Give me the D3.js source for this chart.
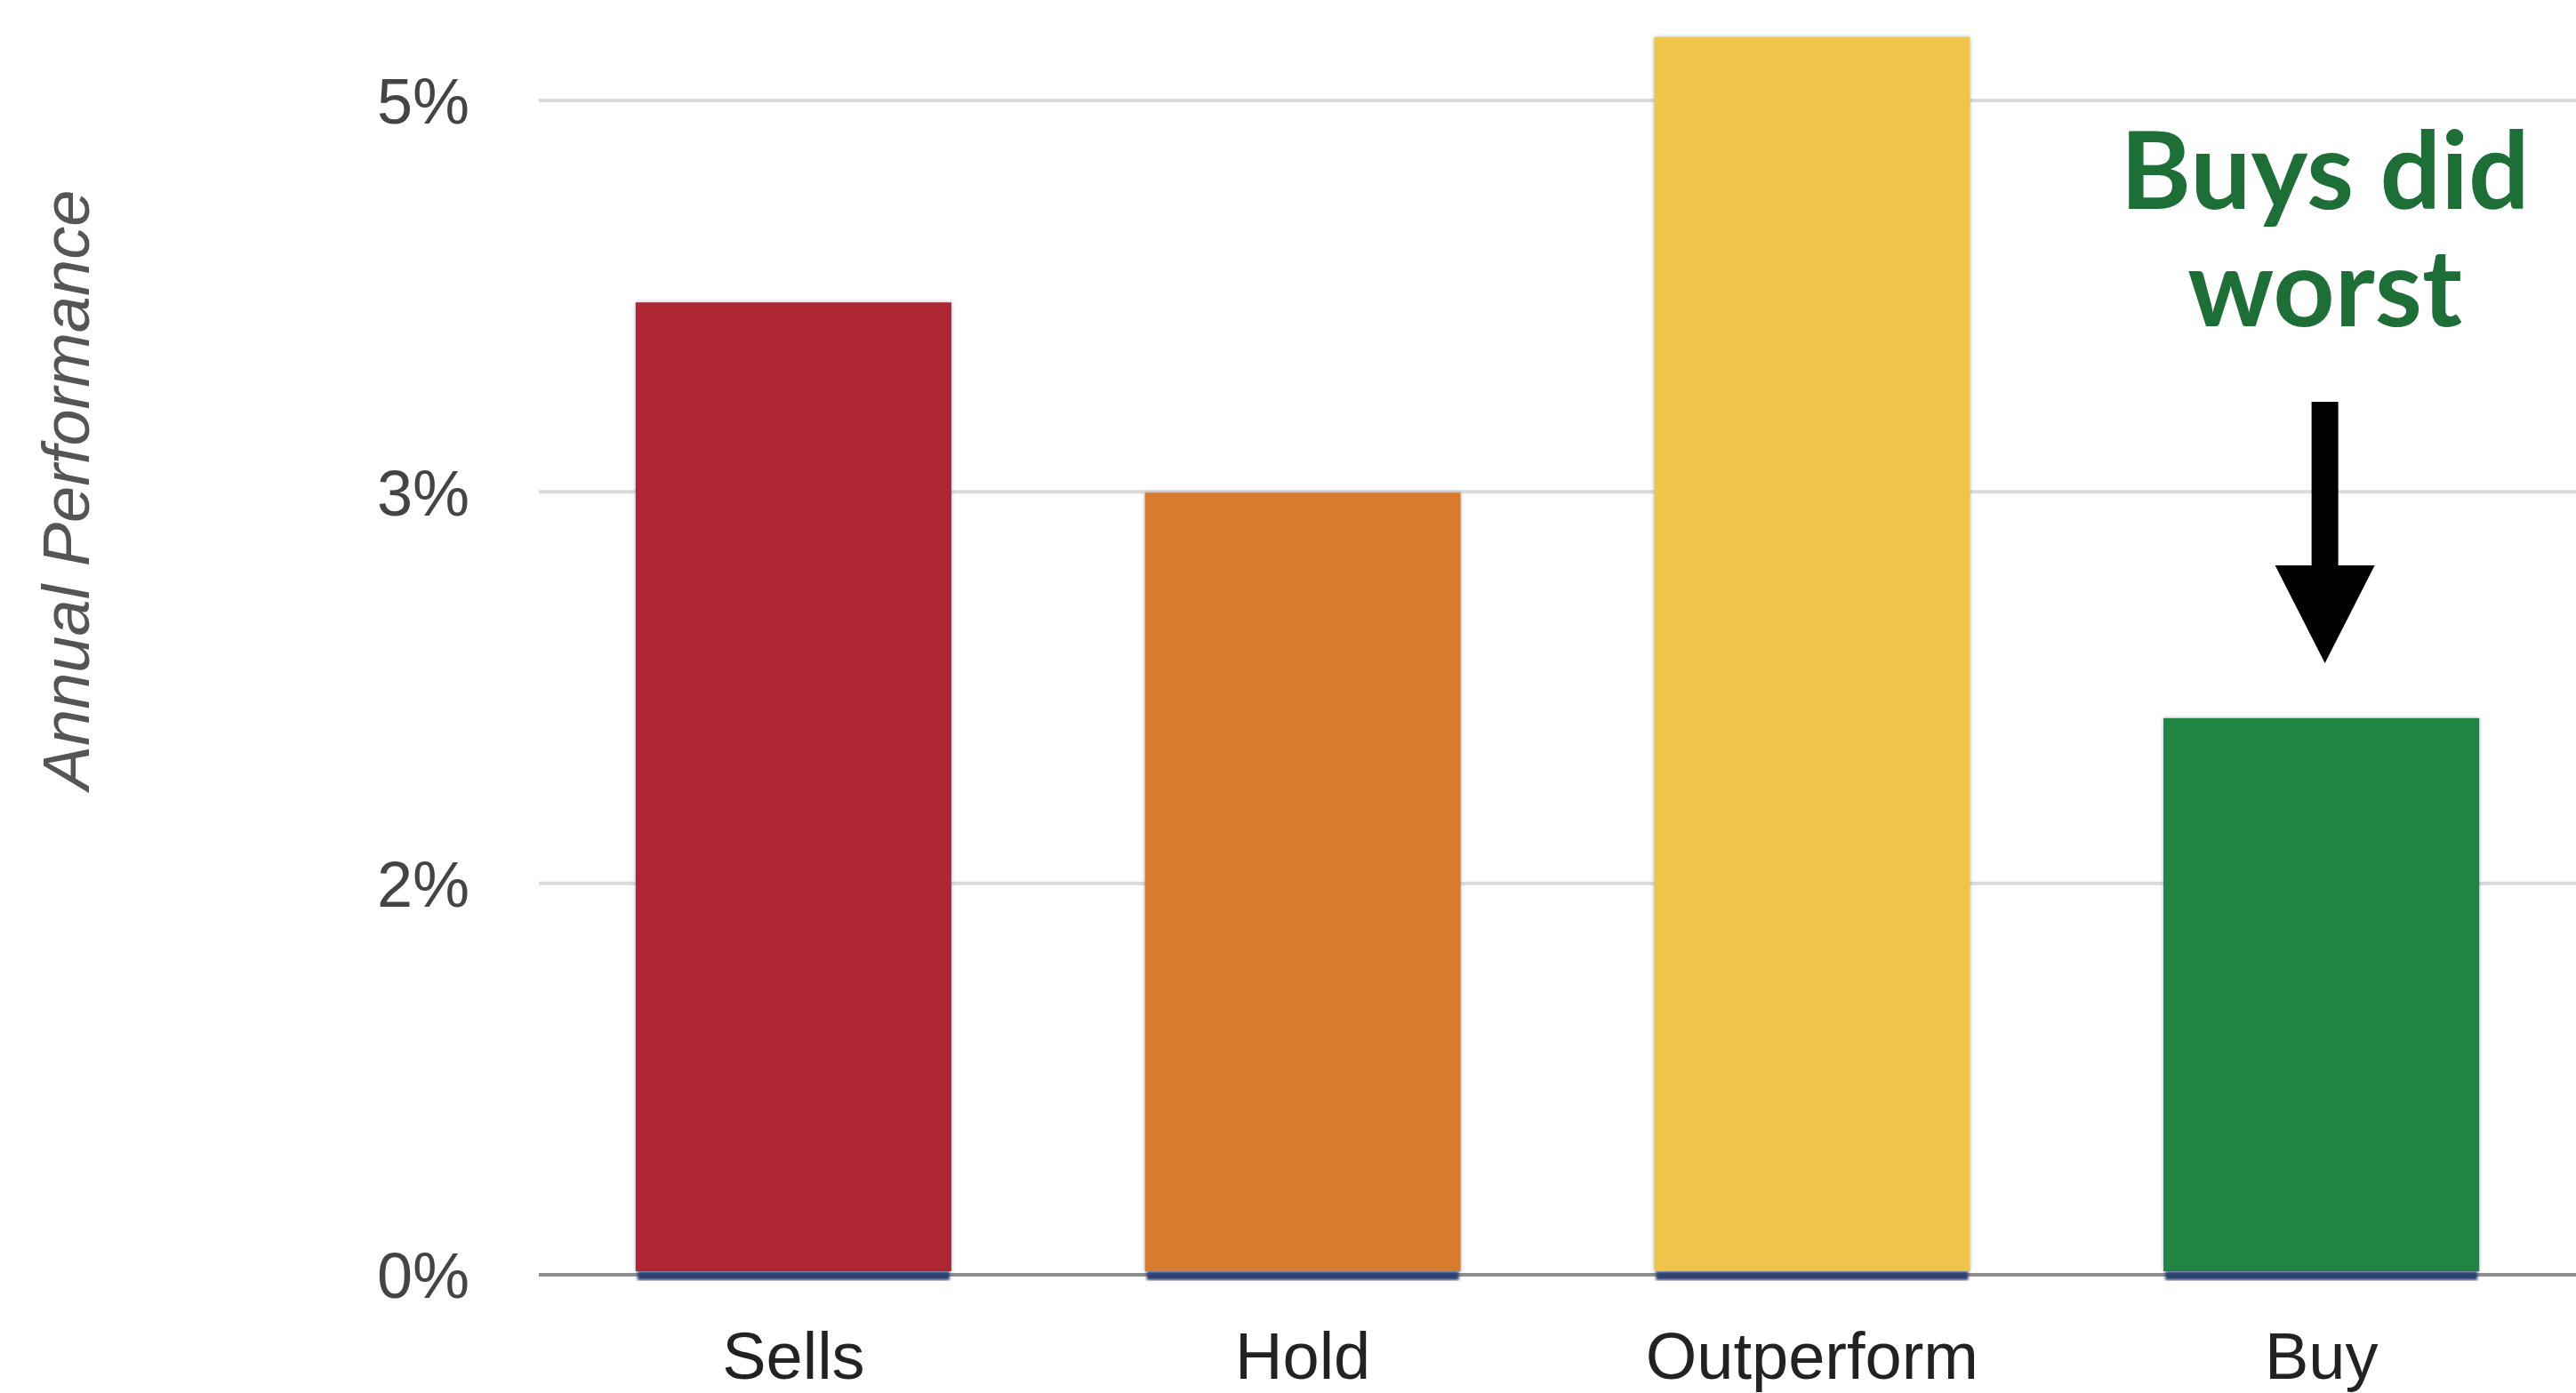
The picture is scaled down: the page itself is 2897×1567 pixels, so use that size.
<!DOCTYPE html>
<html>
<head>
<meta charset="utf-8">
<script src="https://cdn.jsdelivr.net/npm/d3@7"></script>
<style>
  html, body { margin: 0; padding: 0; background: #fff; }
  svg { display: block; }
</style>
</head>
<body>
<script>
// Annual performance by analyst rating
const categories = ["Sells", "Hold", "Outperform", "Buy"];
const values = [4.14, 3.33, 5.27, 2.37];           // percent per year
const barColors = ["#ad2733", "#d77c2f", "#efc44c", "#208442"];
const tickValues = [0, 5 / 3, 10 / 3, 5];
const tickLabels = ["0%", "2%", "3%", "5%"];
const annotationLines = ["Buys did", "worst"];

const W = 2897, H = 1567;
const margin = { left: 606, right: 0, top: 113, bottom: 133 };

const svg = d3.select("body").append("svg")
  .attr("width", W).attr("height", H);

const defs = svg.append("defs");
const glow = defs.append("filter").attr("id", "barShadow")
  .attr("x", "-5%").attr("y", "-5%").attr("width", "110%").attr("height", "110%");
glow.append("feGaussianBlur").attr("in", "SourceAlpha").attr("stdDeviation", 2).attr("result", "b");
glow.append("feFlood").attr("flood-color", "#5d74a8").attr("flood-opacity", 0.55).attr("result", "c");
glow.append("feComposite").attr("in", "c").attr("in2", "b").attr("operator", "in").attr("result", "s");
const merge = glow.append("feMerge");
merge.append("feMergeNode").attr("in", "s");
merge.append("feMergeNode").attr("in", "SourceGraphic");

const soft = defs.append("filter").attr("id", "soft");
soft.append("feGaussianBlur").attr("stdDeviation", 1.5);

const x = d3.scaleBand()
  .domain(categories)
  .range([margin.left, W - margin.right])
  .paddingInner(0.38)
  .paddingOuter(0.19);

const y = d3.scaleLinear()
  .domain([0, 5])
  .range([H - margin.bottom, margin.top]);

// horizontal gridlines
svg.append("g").selectAll("line")
  .data(tickValues.filter(d => d > 0))
  .join("line")
  .attr("x1", margin.left).attr("x2", W)
  .attr("y1", d => y(d)).attr("y2", d => y(d))
  .attr("stroke", "#dadada").attr("stroke-width", 4);

// y axis labels
const yAxis = svg.append("g")
  .attr("transform", `translate(${margin.left},0)`)
  .call(d3.axisLeft(y).tickValues(tickValues)
    .tickFormat((d, i) => tickLabels[i]).tickSize(0).tickPadding(78));
yAxis.select(".domain").remove();
yAxis.selectAll("text")
  .attr("font-family", "'Liberation Sans', Arial, sans-serif")
  .attr("font-size", 72)
  .attr("fill", "#444")
  .attr("dy", "0.36em");

// baseline
svg.append("line")
  .attr("x1", margin.left).attr("x2", W)
  .attr("y1", y(0)).attr("y2", y(0))
  .attr("stroke", "#8e8e8e").attr("stroke-width", 4);

// bars, with a dark shadow strip where each meets the baseline
const bars = svg.append("g");
bars.selectAll("rect.shadow")
  .data(categories)
  .join("rect")
  .attr("class", "shadow")
  .attr("x", d => x(d) + 2)
  .attr("width", x.bandwidth() - 4)
  .attr("y", y(0) - 4)
  .attr("height", 10)
  .attr("fill", "#2f4170")
  .attr("filter", "url(#soft)");

bars.selectAll("rect.bar")
  .data(values)
  .join("rect")
  .attr("class", "bar")
  .attr("x", (d, i) => x(categories[i]))
  .attr("width", x.bandwidth())
  .attr("y", d => y(d))
  .attr("height", d => y(0) - y(d) - 4)
  .attr("fill", (d, i) => barColors[i])
  .attr("filter", "url(#barShadow)");

// x axis labels
const xAxis = svg.append("g")
  .attr("transform", `translate(0,${y(0)})`)
  .call(d3.axisBottom(x).tickSize(0).tickPadding(64));
xAxis.select(".domain").remove();
xAxis.selectAll("text")
  .attr("font-family", "'Liberation Sans', Arial, sans-serif")
  .attr("font-size", 74)
  .attr("fill", "#222");

// y axis title
svg.append("text")
  .attr("transform", "translate(100,551) rotate(-90)")
  .attr("text-anchor", "middle")
  .attr("font-family", "'Liberation Sans', Arial, sans-serif")
  .attr("font-style", "italic")
  .attr("font-size", 74)
  .attr("fill", "#555")
  .text("Annual Performance");

// annotation over the Buy bar
const cx = x("Buy") + x.bandwidth() / 2 + 4;
svg.append("g")
  .selectAll("text")
  .data(annotationLines)
  .join("text")
  .attr("text-anchor", "middle")
  .attr("font-family", "Lato, sans-serif")
  .attr("font-weight", 700)
  .attr("font-size", 121)
  .attr("fill", "#1d6e37")
  .attr("x", cx)
  .attr("y", (d, i) => 235 + i * 132)
  .text(d => d);

// downward arrow
const arrowTop = 452, headTop = 636, tip = 746;
svg.append("path")
  .attr("d", `M${cx - 15},${arrowTop} H${cx + 15} V${headTop} H${cx + 56} L${cx},${tip} L${cx - 56},${headTop} H${cx - 15} Z`)
  .attr("fill", "#000");
</script>
</body>
</html>
